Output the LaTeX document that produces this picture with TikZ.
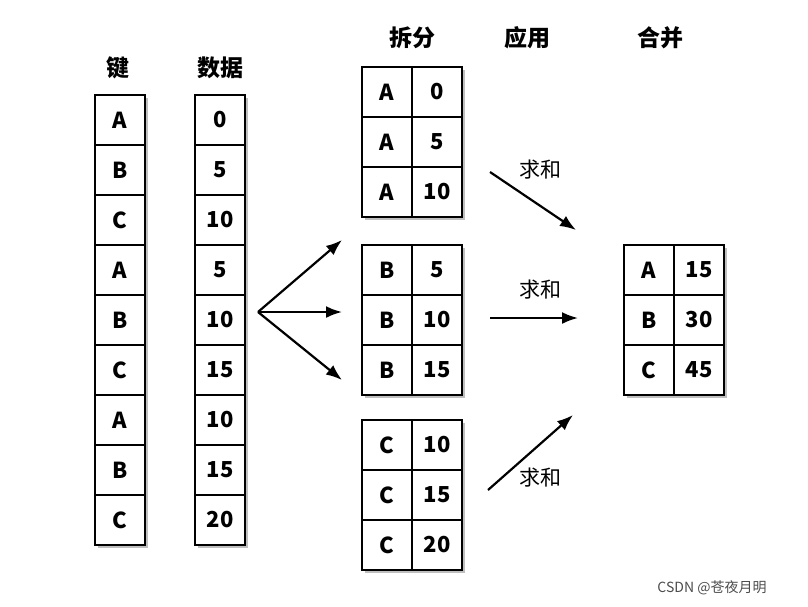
\documentclass[tikz,border=0pt]{standalone}
\usepackage{fontspec}
\setmainfont{Noto Sans CJK SC}
\usetikzlibrary{shadows,arrows.meta}
\begin{document}
\begin{tikzpicture}[x=1pt,y=-1pt,
  cell/.style={draw,line width=2.4pt,minimum width=50pt,minimum height=50pt,inner sep=0pt,font=\fontsize{22}{22}\selectfont\bfseries,fill=white,drop shadow={shadow xshift=3pt,shadow yshift=-3pt,opacity=0.5}},
  hdr/.style={font=\fontsize{23}{23}\selectfont\bfseries},
  lbl/.style={font=\fontsize{21}{21}\selectfont},
  arr/.style={line width=2.2pt,-{Latex[length=16pt,width=12pt]}}]
\useasboundingbox (0,0) rectangle (808,606);
\node[hdr] (hk) at (118,68) {键};
\node[hdr] (hd) at (220,68) {数据};
\node[hdr] (hs) at (412,38) {拆分};
\node[hdr] (ha) at (527,38) {应用};
\node[hdr] (hm) at (660,38) {合并};
\foreach \k/\d [count=\i] in {A/0,B/5,C/10,A/5,B/10,C/15,A/10,B/15,C/20}{
  \node[cell] (k\i) at (120,70+50*\i) {\k};
  \node[cell] (d\i) at (220,70+50*\i) {\d};
}
\foreach \g/\y/\a/\b/\c in {A/67/0/5/10,B/245/5/10/15,C/420/10/15/20}{
  \node[cell] (\g k1) at (387,\y+25) {\g};
  \node[cell] (\g v1) at (437,\y+25) {\a};
  \node[cell] (\g k2) at (387,\y+75) {\g};
  \node[cell] (\g v2) at (437,\y+75) {\b};
  \node[cell] (\g k3) at (387,\y+125) {\g};
  \node[cell] (\g v3) at (437,\y+125) {\c};
}
\foreach \g/\v [count=\i] in {A/15,B/30,C/45}{
  \node[cell] (rk\i) at (649,220+50*\i) {\g};
  \node[cell] (rv\i) at (699,220+50*\i) {\v};
}
\coordinate (f) at (258,312);
\coordinate (t1) at (342,240);
\coordinate (t2) at (342,312);
\coordinate (t3) at (342,380);
\draw[arr] (f) -- (t1);
\draw[arr] (f) -- (t2);
\draw[arr] (f) -- (t3);
\coordinate (a1) at (490,172); \coordinate (b1) at (576,230);
\coordinate (a2) at (490,318); \coordinate (b2) at (578,318);
\coordinate (a3) at (488,490); \coordinate (b3) at (573,415);
\draw[arr] (a1) -- (b1);
\draw[arr] (a2) -- (b2);
\draw[arr] (a3) -- (b3);
\node[lbl] (s1) at (540,170) {求和};
\node[lbl] (s2) at (540,290) {求和};
\node[lbl] (s3) at (540,478) {求和};
\node[font=\fontsize{14}{14}\selectfont,text=black!70] (wm) at (712,588) {CSDN @苍夜月明};
\end{tikzpicture}
\end{document}
